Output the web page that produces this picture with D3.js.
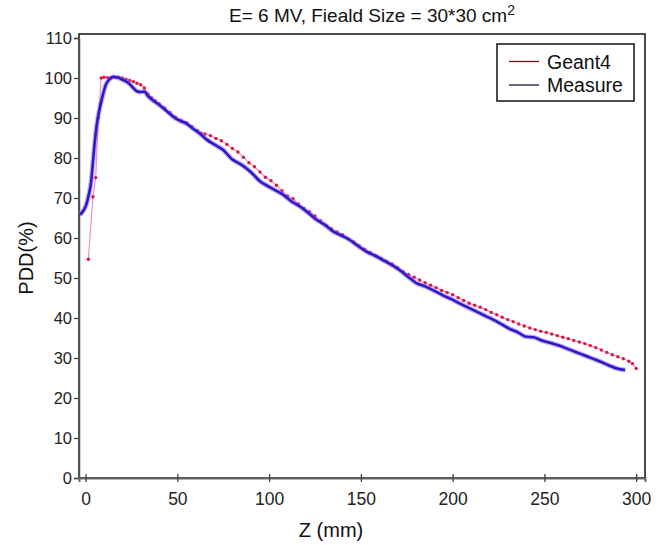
<!DOCTYPE html>
<html lang="en">
<head>
<meta charset="UTF-8">
<title>PDD</title>
<script src="https://cdnjs.cloudflare.com/ajax/libs/d3/7.8.5/d3.min.js"></script>
<style>
  body { margin: 0; background: #fff; }
  text { font-family: "Liberation Sans", Arial, sans-serif; }
</style>
</head>
<body>
<svg width="659" height="545"></svg>
<script>
// Measure (blue)
const measureZ = [-3, -1, 0.5, 1.5, 3, 4, 5, 6, 7.5, 9, 11, 13, 15, 17, 19, 21.5, 24, 26, 28, 30, 32, 34, 37, 40, 43, 46, 49, 52, 55, 58, 62, 66, 70, 75, 80, 85, 90, 95, 100, 104, 108, 112, 117, 121, 126, 130, 135, 140, 144, 149, 153, 158, 162, 167, 171, 176, 180, 185, 190, 195, 199, 204, 208, 213, 217, 222, 226, 231, 236, 240, 244, 249, 253, 258, 262, 267, 271, 276, 281, 285, 290, 294];
const measurePDD = [65.8, 67, 68.5, 70.4, 74, 79, 84, 88, 92, 95, 98.3, 99.7, 100.3, 100.2, 99.8, 99.3, 98.5, 97.5, 96.7, 96.5, 96.6, 95.5, 94.3, 93.3, 92.2, 91, 89.9, 89.2, 88.6, 87.5, 86.2, 84.6, 83.4, 82, 79.6, 78.3, 76.5, 74.2, 72.8, 71.8, 70.7, 69.2, 67.8, 66.4, 64.5, 63.4, 61.6, 60.5, 59.5, 57.8, 56.6, 55.5, 54.5, 53.2, 52, 50.2, 48.8, 47.9, 46.8, 45.6, 44.8, 43.6, 42.7, 41.6, 40.7, 39.6, 38.6, 37.3, 36.3, 35.3, 35.2, 34.3, 33.8, 33.1, 32.4, 31.5, 30.8, 29.9, 29.0, 28.2, 27.3, 27.0];

// Geant4 (red)
const geantZ = [1.5, 4, 5.5, 7, 8.5, 10, 12, 14, 16, 18, 20, 22, 24, 26, 28, 30, 32, 34, 36, 38, 40, 43, 46, 49, 52, 55, 58, 61, 63, 65, 68, 71, 74, 77, 80, 83, 86, 89, 92, 95, 98, 101, 104, 107, 110, 113, 116, 119, 122, 125, 128, 131, 134, 137, 140, 143, 146, 149, 152, 155, 158, 161, 164, 167, 170, 173, 176, 179, 182, 185, 188, 191, 194, 197, 200, 203, 206, 209, 212, 215, 218, 221, 224, 227, 230, 233, 236, 239, 242, 245, 248, 251, 254, 257, 260, 263, 266, 269, 272, 275, 278, 281, 284, 287, 290, 293, 296, 298, 300];
const geantPDD = [54.7, 70.3, 75.1, 90, 100, 100.2, 100.1, 100, 100.1, 100.2, 100, 99.7, 99.4, 99.1, 98.7, 98.3, 97.5, 96.0, 95, 94.3, 93.6, 92.5, 91.4, 90.2, 89.4, 88.8, 87.8, 86.8, 86.2, 86, 85.6, 84.9, 84.3, 83.4, 82.4, 81.5, 80.2, 78.8, 77.8, 76.5, 75.2, 74.3, 73.2, 71.8, 70.5, 69.8, 68.5, 67.4, 66.6, 65.5, 64.3, 63.2, 62.3, 61.5, 60.8, 59.8, 59, 58.1, 57.2, 56.4, 55.6, 54.9, 54.2, 53.5, 52.6, 51.6, 50.9, 50.2, 49.5, 48.8, 48.2, 47.6, 46.9, 46.4, 45.8, 45.1, 44.4, 43.7, 43.2, 42.7, 42.1, 41.4, 40.8, 40.2, 39.6, 39.1, 38.5, 38, 37.5, 37.1, 36.7, 36.4, 36.0, 35.6, 35.2, 34.8, 34.4, 34, 33.6, 33.1, 32.6, 32.0, 31.4, 30.8, 30.3, 29.8, 29.2, 28.6, 27.4];

const xTicks = [0, 50, 100, 150, 200, 250, 300];
const yTicks = [0, 10, 20, 30, 40, 50, 60, 70, 80, 90, 100, 110];
const seriesNames = ["Geant4", "Measure"];

const L = 79, T = 34, R = 645, B = 478;
const svg = d3.select('svg');

const x = d3.scaleLinear().domain([-3.6, 304.8]).range([L, R]);
const y = d3.scaleLinear().domain([0, 110]).range([B, B - 440]);

// frame
svg.append('rect')
    .attr('x', L).attr('y', T).attr('width', R - L).attr('height', B - T)
    .attr('fill', 'none').attr('stroke', '#111').attr('stroke-width', 1.5);

// y axis
const yAxis = svg.append('g')
    .attr('transform', `translate(${L},0)`)
    .call(d3.axisLeft(y).tickValues(yTicks).tickSize(5).tickPadding(2));
yAxis.select('.domain').attr('stroke', '#555').attr('stroke-width', 1.5);
yAxis.selectAll('.tick line').attr('stroke', '#444').attr('stroke-width', 1.3);
yAxis.selectAll('text').attr('font-size', '16.5px').attr('fill', '#222')
    .attr('font-family', '"Liberation Sans", Arial, sans-serif');

// x axis
const xAxis = svg.append('g')
    .attr('transform', `translate(0,${B})`)
    .call(d3.axisBottom(x).tickValues(xTicks).tickSize(4).tickPadding(11));
xAxis.select('.domain').attr('stroke', '#666').attr('stroke-width', 2);
xAxis.selectAll('.tick line').attr('y1', -4).attr('stroke', '#444').attr('stroke-width', 1.3);
xAxis.selectAll('text').attr('font-size', '17.5px').attr('fill', '#222')
    .attr('font-family', '"Liberation Sans", Arial, sans-serif');

// Geant4 series
const line = d3.line().x(d => x(d[0])).y(d => y(d[1]));
const geant = geantZ.map((z, i) => [z, geantPDD[i]]);
const meas = measureZ.map((z, i) => [z, measurePDD[i]]);

svg.append('path').datum(geant)
    .attr('d', line).attr('fill', 'none')
    .attr('stroke', '#f08ccc').attr('stroke-width', 1.2);
svg.append('g').selectAll('circle').data(geant).join('circle')
    .attr('cx', d => x(d[0])).attr('cy', d => y(d[1])).attr('r', 1.7)
    .attr('fill', '#d8183c');

// Measure series
const smooth = d3.line().curve(d3.curveMonotoneX).x(d => x(d[0])).y(d => y(d[1]));
svg.append('path').datum(meas)
    .attr('d', smooth).attr('fill', 'none')
    .attr('stroke', '#a070f0').attr('stroke-opacity', 0.55).attr('stroke-width', 5);
svg.append('path').datum(meas)
    .attr('d', smooth).attr('fill', 'none')
    .attr('stroke', '#2a1ac8').attr('stroke-width', 2.6);

// title
const title = svg.append('text')
    .attr('x', 372).attr('y', 22)
    .attr('text-anchor', 'middle')
    .attr('font-size', '19px').attr('fill', '#111');
title.append('tspan').text('E= 6 MV, Fieald Size = 30*30 cm');
title.append('tspan').attr('dy', -7).attr('font-size', '14px').text('2');

// axis labels
svg.append('text')
    .attr('x', 331).attr('y', 537)
    .attr('text-anchor', 'middle')
    .attr('font-size', '20px').attr('fill', '#111')
    .text('Z (mm)');
svg.append('text')
    .attr('transform', 'translate(33,258) rotate(-90)')
    .attr('text-anchor', 'middle')
    .attr('font-size', '20px').attr('fill', '#111')
    .text('PDD(%)');

// legend
const lg = svg.append('g');
lg.append('rect')
    .attr('x', 497).attr('y', 44).attr('width', 137).attr('height', 57)
    .attr('fill', '#fff').attr('stroke', '#111').attr('stroke-width', 1.5);
const legendColors = ['#7a1414', '#14143c'];
seriesNames.forEach((name, i) => {
    const ly = 61.5 + i * 23.5;
    lg.append('line')
        .attr('x1', 509).attr('x2', 539).attr('y1', ly).attr('y2', ly)
        .attr('stroke', legendColors[i]).attr('stroke-width', 1.3);
    lg.append('text')
        .attr('x', 547).attr('y', ly + 7)
        .attr('font-size', '19.5px').attr('fill', '#111')
        .text(name);
});
</script>
</body>
</html>
